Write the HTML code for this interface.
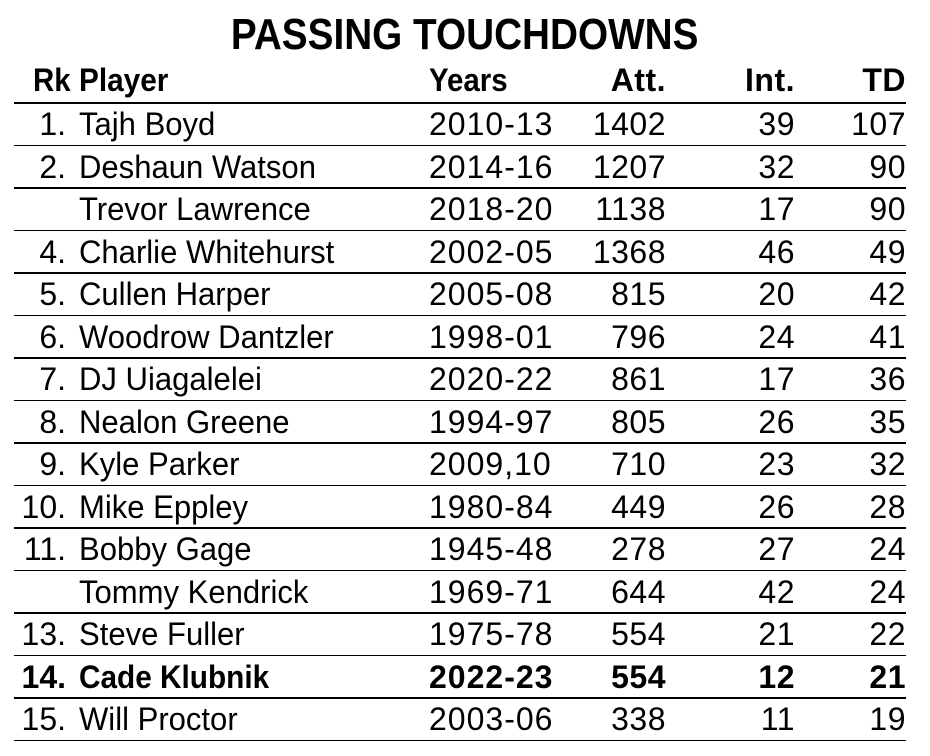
<!DOCTYPE html>
<html><head><meta charset="utf-8"><style>
body{margin:0;width:930px;height:756px;background:#fff;position:relative;overflow:hidden;font-family:"Liberation Sans",sans-serif;color:#000}
.t{position:absolute;left:0;width:930px;top:10px;text-align:center;font-weight:bold;font-size:44px;line-height:50px}
.t span{display:inline-block;transform:scaleX(0.88)}
.r{position:absolute;left:0;width:930px;height:42px;font-size:32px;line-height:42px}
.r div{position:absolute;top:0;white-space:nowrap}
.rk{right:864px;text-align:right}
.p{left:79px;transform:scaleX(0.97);transform-origin:left center}.y{left:429px;letter-spacing:1px}
.a{right:264px;letter-spacing:0.5px}.i{right:135px;letter-spacing:0.5px}.d{right:24px;letter-spacing:0.5px}
.ln{position:absolute;left:14px;width:892px;height:1.6px;background:#000}
.b{font-weight:bold}
.b .p{transform:scaleX(0.93)}
</style></head><body>
<div class="t"><span>PASSING TOUCHDOWNS</span></div>
<div class="r b" style="top:59px"><div style="left:33px;transform:scaleX(0.92);transform-origin:left">Rk</div><div class="p">Player</div><div class="y" style="letter-spacing:0;transform:scaleX(0.92);transform-origin:left">Years</div><div class="a">Att.</div><div class="i">Int.</div><div class="d">TD</div></div>
<div class="ln" style="top:102px"></div>
<div class="r" style="top:103px"><div class="rk">1.</div><div class="p">Tajh Boyd</div><div class="y">2010-13</div><div class="a">1402</div><div class="i">39</div><div class="d">107</div></div>
<div class="ln" style="top:144.5px"></div>
<div class="r" style="top:145.5px"><div class="rk">2.</div><div class="p">Deshaun Watson</div><div class="y">2014-16</div><div class="a">1207</div><div class="i">32</div><div class="d">90</div></div>
<div class="ln" style="top:187px"></div>
<div class="r" style="top:188px"><div class="p">Trevor Lawrence</div><div class="y">2018-20</div><div class="a">1138</div><div class="i">17</div><div class="d">90</div></div>
<div class="ln" style="top:229.5px"></div>
<div class="r" style="top:230.5px"><div class="rk">4.</div><div class="p">Charlie Whitehurst</div><div class="y">2002-05</div><div class="a">1368</div><div class="i">46</div><div class="d">49</div></div>
<div class="ln" style="top:272px"></div>
<div class="r" style="top:273px"><div class="rk">5.</div><div class="p">Cullen Harper</div><div class="y">2005-08</div><div class="a">815</div><div class="i">20</div><div class="d">42</div></div>
<div class="ln" style="top:314.5px"></div>
<div class="r" style="top:315.5px"><div class="rk">6.</div><div class="p">Woodrow Dantzler</div><div class="y">1998-01</div><div class="a">796</div><div class="i">24</div><div class="d">41</div></div>
<div class="ln" style="top:357px"></div>
<div class="r" style="top:358px"><div class="rk">7.</div><div class="p">DJ Uiagalelei</div><div class="y">2020-22</div><div class="a">861</div><div class="i">17</div><div class="d">36</div></div>
<div class="ln" style="top:399.5px"></div>
<div class="r" style="top:400.5px"><div class="rk">8.</div><div class="p">Nealon Greene</div><div class="y">1994-97</div><div class="a">805</div><div class="i">26</div><div class="d">35</div></div>
<div class="ln" style="top:442px"></div>
<div class="r" style="top:443px"><div class="rk">9.</div><div class="p">Kyle Parker</div><div class="y">2009,10</div><div class="a">710</div><div class="i">23</div><div class="d">32</div></div>
<div class="ln" style="top:484.5px"></div>
<div class="r" style="top:485.5px"><div class="rk">10.</div><div class="p">Mike Eppley</div><div class="y">1980-84</div><div class="a">449</div><div class="i">26</div><div class="d">28</div></div>
<div class="ln" style="top:527px"></div>
<div class="r" style="top:528px"><div class="rk">11.</div><div class="p">Bobby Gage</div><div class="y">1945-48</div><div class="a">278</div><div class="i">27</div><div class="d">24</div></div>
<div class="ln" style="top:569.5px"></div>
<div class="r" style="top:570.5px"><div class="p">Tommy Kendrick</div><div class="y">1969-71</div><div class="a">644</div><div class="i">42</div><div class="d">24</div></div>
<div class="ln" style="top:612px"></div>
<div class="r" style="top:613px"><div class="rk">13.</div><div class="p">Steve Fuller</div><div class="y">1975-78</div><div class="a">554</div><div class="i">21</div><div class="d">22</div></div>
<div class="ln" style="top:654.5px"></div>
<div class="r b" style="top:655.5px"><div class="rk">14.</div><div class="p">Cade Klubnik</div><div class="y">2022-23</div><div class="a">554</div><div class="i">12</div><div class="d">21</div></div>
<div class="ln" style="top:697px"></div>
<div class="r" style="top:698px"><div class="rk">15.</div><div class="p">Will Proctor</div><div class="y">2003-06</div><div class="a">338</div><div class="i">11</div><div class="d">19</div></div>
<div class="ln" style="top:739.5px"></div>
</body></html>
